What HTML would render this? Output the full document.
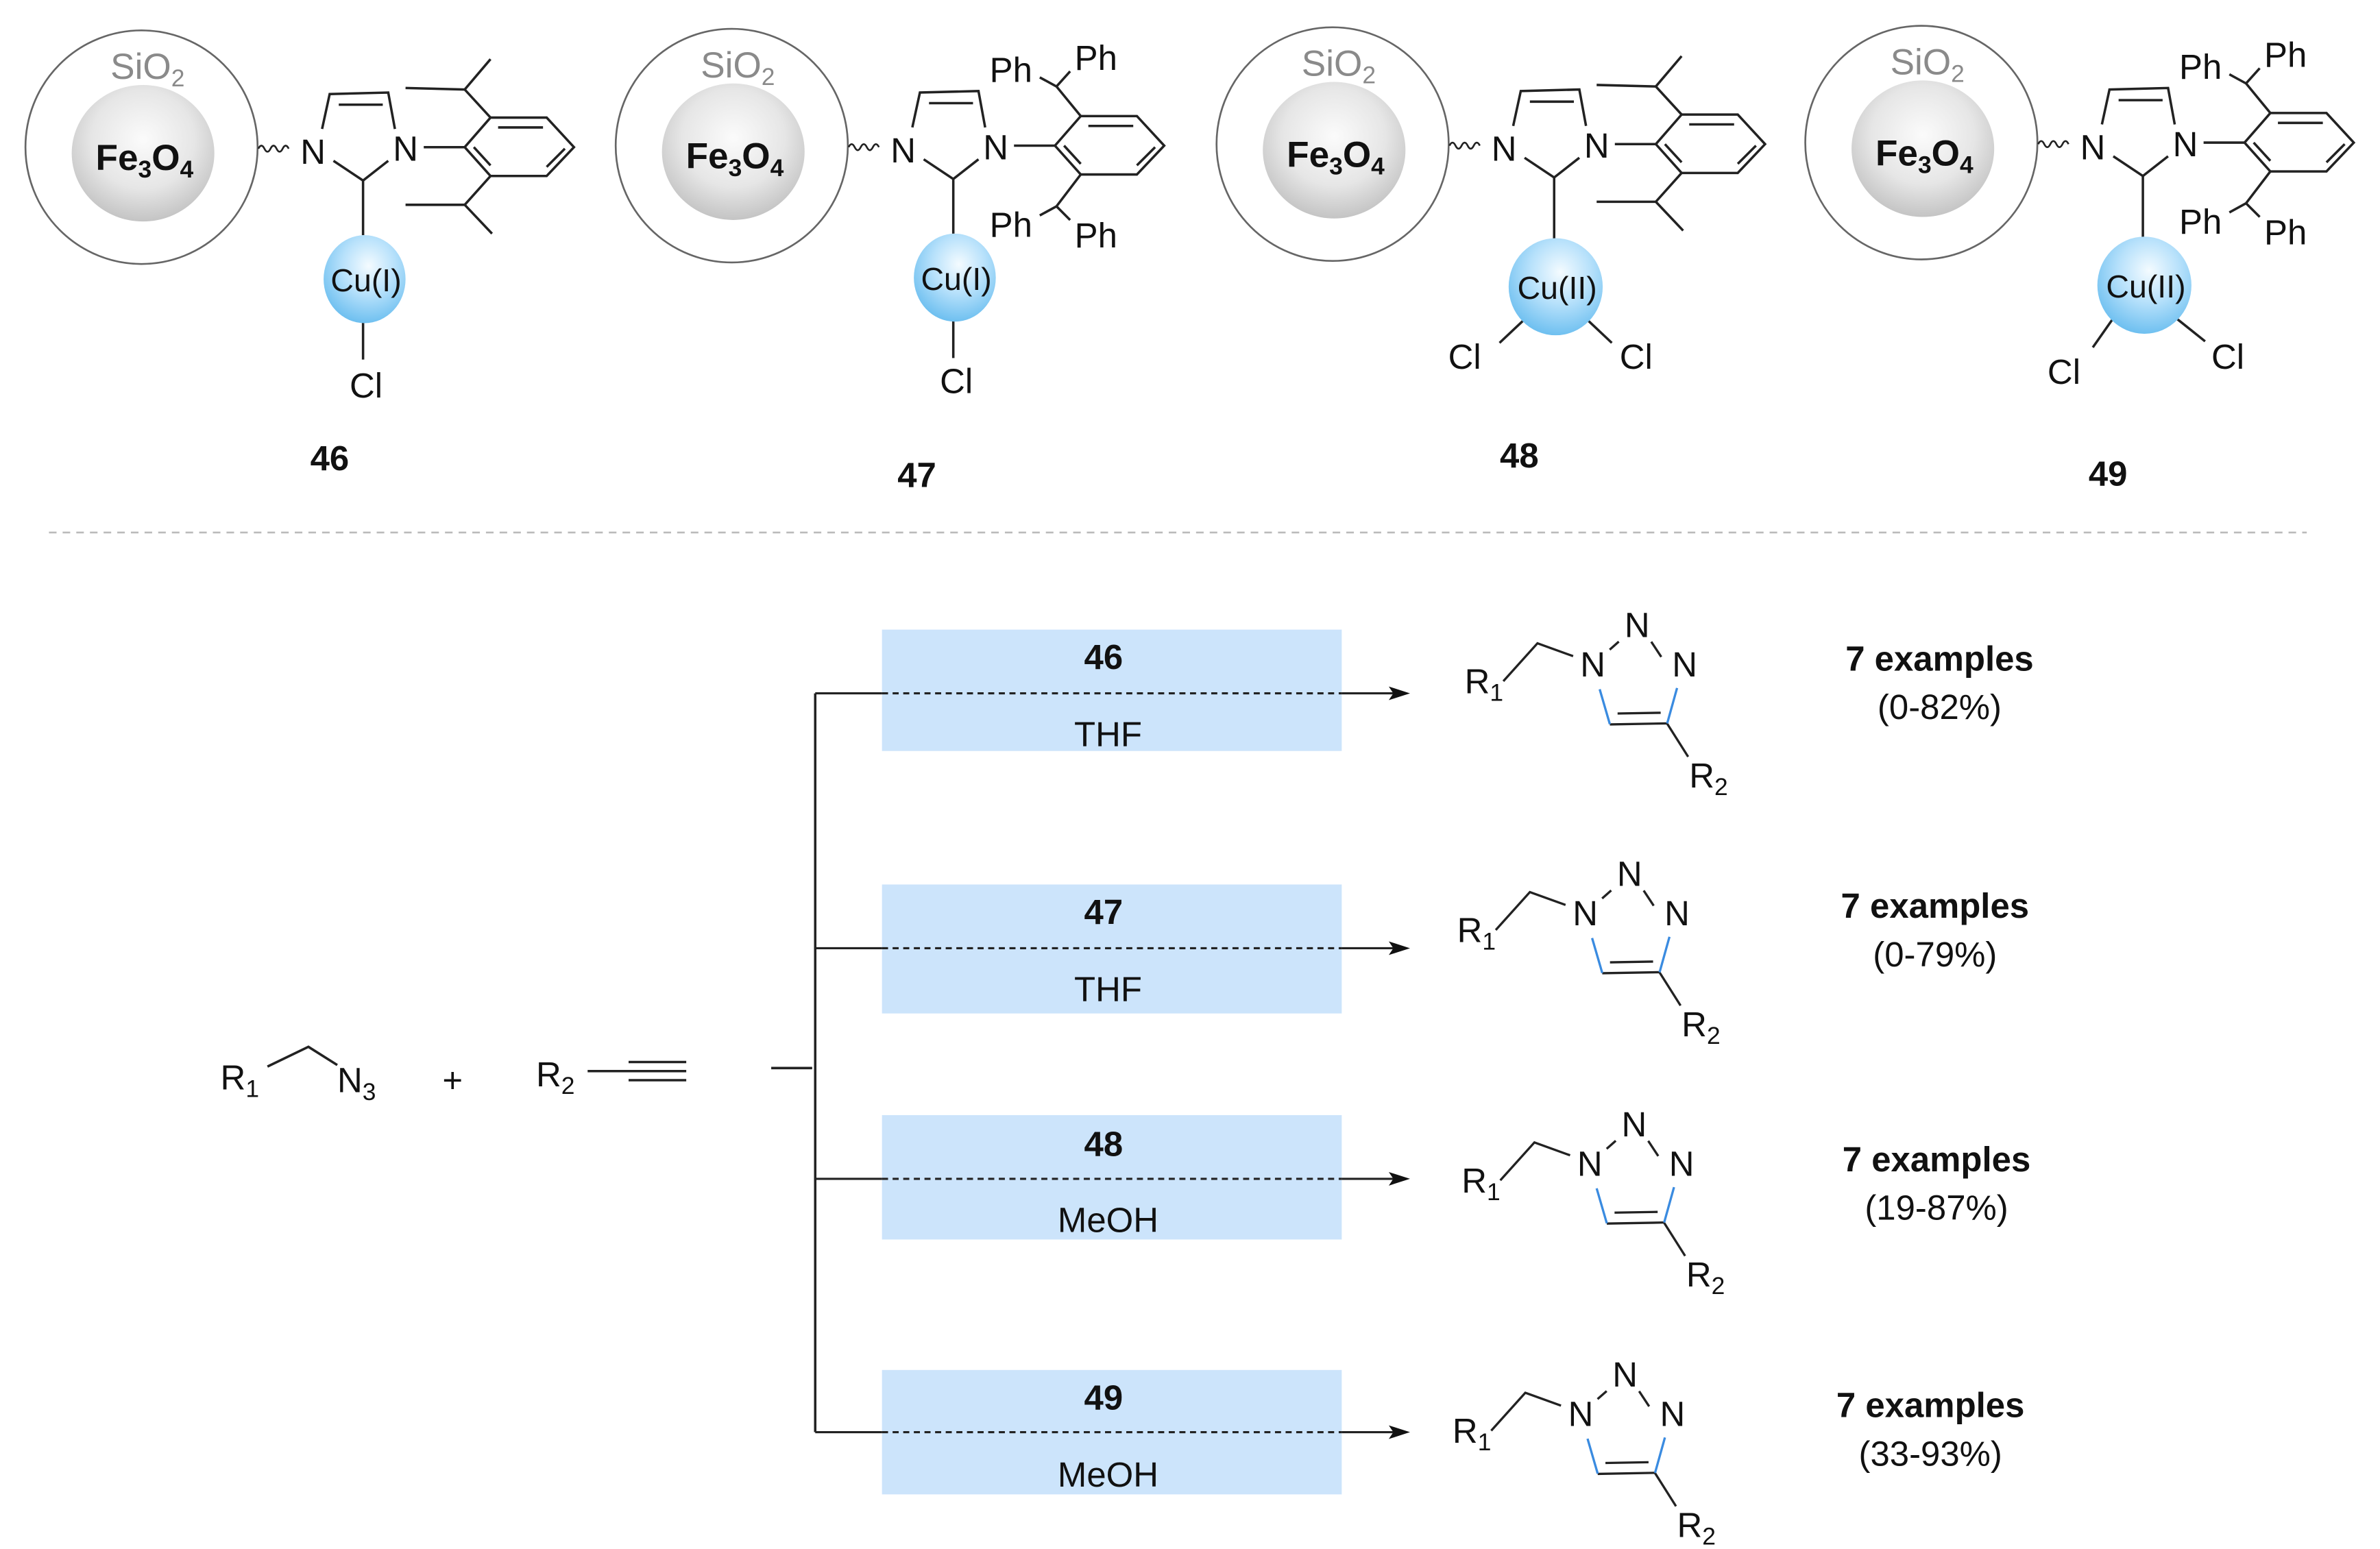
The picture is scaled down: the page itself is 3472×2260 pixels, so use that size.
<!DOCTYPE html>
<html><head><meta charset="utf-8"><style>
html,body{margin:0;padding:0;background:#fff;}
svg{display:block;}
text{font-family:"Liberation Sans",Arial,sans-serif;}
</style></head><body>
<svg width="3472" height="2260" viewBox="0 0 1568 1021" xmlns="http://www.w3.org/2000/svg">
<defs>
<radialGradient id="fe" cx="50%" cy="40%" r="60%"><stop offset="0" stop-color="#fbfbfb"/><stop offset="0.6" stop-color="#e6e6e6"/><stop offset="1" stop-color="#c4c4c4"/></radialGradient>
<radialGradient id="cu" cx="55%" cy="35%" r="65%"><stop offset="0" stop-color="#f4fbff"/><stop offset="0.5" stop-color="#b7e1fb"/><stop offset="1" stop-color="#6fc0f0"/></radialGradient>
</defs>

<!-- ================= 46 ================= -->
<g>
<ellipse cx="93" cy="97" rx="76.5" ry="77" fill="none" stroke="#666" stroke-width="1.2"/>
<ellipse cx="94" cy="101" rx="47" ry="45" fill="url(#fe)"/>
<text x="97" y="52" font-size="24" fill="#8a8a8a" text-anchor="middle">SiO<tspan font-size="16" dy="5">2</tspan></text>
<text x="95" y="112" font-size="24" font-weight="bold" fill="#111" text-anchor="middle">Fe<tspan font-size="16" dy="5">3</tspan><tspan dy="-5">O</tspan><tspan font-size="16" dy="5">4</tspan></text>
<path d="M170 98 q2 -4 4 0 t4 0 t4 0 t4 0 t4 0" stroke="#222" stroke-width="1.2" fill="none"/>
<g stroke="#222" stroke-width="1.6" fill="none">
<path d="M212 85 L217 62 L255.6 61 L260 85"/><line x1="223" y1="69" x2="252" y2="69"/>
<path d="M219.5 106 L239 119 L255.6 106"/>
<line x1="279" y1="97" x2="306" y2="97"/>
<path d="M306 97 L323 77.5 L360 77.5 L378 97 L360 116 L323 116 Z"/>
<line x1="328" y1="84" x2="357.6" y2="84"/><line x1="372" y1="98" x2="360" y2="110"/><line x1="312" y1="97" x2="323" y2="109"/>
<path d="M323 77.5 L306 59 L267 58 M306 59 L323 39"/>
<path d="M323 116 L306 135 L267 135 M306 135 L324 154"/>
<line x1="239" y1="119" x2="239" y2="155"/>
<line x1="239" y1="212" x2="239" y2="237"/>
</g>
<text x="206" y="108" font-size="23" text-anchor="middle" fill="#111">N</text>
<text x="267" y="106" font-size="23" text-anchor="middle" fill="#111">N</text>
<ellipse cx="240" cy="184" rx="27" ry="29" fill="url(#cu)"/>
<text x="241" y="192" font-size="21" text-anchor="middle" fill="#111">Cu(I)</text>
<text x="241" y="262" font-size="23" text-anchor="middle" fill="#111">Cl</text>
</g>
<text x="217" y="310" font-size="23" font-weight="bold" text-anchor="middle" fill="#111">46</text>

<!-- ================= 47 ================= -->
<g transform="translate(389,-1)">
<ellipse cx="93" cy="97" rx="76.5" ry="77" fill="none" stroke="#666" stroke-width="1.2"/>
<ellipse cx="94" cy="101" rx="47" ry="45" fill="url(#fe)"/>
<text x="97" y="52" font-size="24" fill="#8a8a8a" text-anchor="middle">SiO<tspan font-size="16" dy="5">2</tspan></text>
<text x="95" y="112" font-size="24" font-weight="bold" fill="#111" text-anchor="middle">Fe<tspan font-size="16" dy="5">3</tspan><tspan dy="-5">O</tspan><tspan font-size="16" dy="5">4</tspan></text>
<path d="M170 98 q2 -4 4 0 t4 0 t4 0 t4 0 t4 0" stroke="#222" stroke-width="1.2" fill="none"/>
<g stroke="#222" stroke-width="1.6" fill="none">
<path d="M212 85 L217 62 L255.6 61 L260 85"/><line x1="223" y1="69" x2="252" y2="69"/>
<path d="M219.5 106 L239 119 L255.6 106"/>
<line x1="279" y1="97" x2="306" y2="97"/>
<path d="M306 97 L323 77.5 L360 77.5 L378 97 L360 116 L323 116 Z"/>
<line x1="328" y1="84" x2="357.6" y2="84"/><line x1="372" y1="98" x2="360" y2="110"/><line x1="312" y1="97" x2="323" y2="109"/>
<path d="M323 77.5 L307 58 M307 58 L296 52 M307 58 L316 48"/>
<path d="M323 116 L307 137 M307 137 L296 143 M307 137 L316 146"/>
<line x1="239" y1="119" x2="239" y2="155"/>
<line x1="239" y1="212" x2="239" y2="237"/>
</g>
<text x="277" y="55" font-size="23" text-anchor="middle" fill="#111">Ph</text>
<text x="333" y="47" font-size="23" text-anchor="middle" fill="#111">Ph</text>
<text x="277" y="157" font-size="23" text-anchor="middle" fill="#111">Ph</text>
<text x="333" y="164" font-size="23" text-anchor="middle" fill="#111">Ph</text>
<text x="206" y="108" font-size="23" text-anchor="middle" fill="#111">N</text>
<text x="267" y="106" font-size="23" text-anchor="middle" fill="#111">N</text>
<ellipse cx="240" cy="184" rx="27" ry="29" fill="url(#cu)"/>
<text x="241" y="192" font-size="21" text-anchor="middle" fill="#111">Cu(I)</text>
<text x="241" y="260" font-size="23" text-anchor="middle" fill="#111">Cl</text>
</g>
<text x="604" y="321" font-size="23" font-weight="bold" text-anchor="middle" fill="#111">47</text>

<!-- ================= 48 ================= -->
<g transform="translate(785,-2)">
<ellipse cx="93" cy="97" rx="76.5" ry="77" fill="none" stroke="#666" stroke-width="1.2"/>
<ellipse cx="94" cy="101" rx="47" ry="45" fill="url(#fe)"/>
<text x="97" y="52" font-size="24" fill="#8a8a8a" text-anchor="middle">SiO<tspan font-size="16" dy="5">2</tspan></text>
<text x="95" y="112" font-size="24" font-weight="bold" fill="#111" text-anchor="middle">Fe<tspan font-size="16" dy="5">3</tspan><tspan dy="-5">O</tspan><tspan font-size="16" dy="5">4</tspan></text>
<path d="M170 98 q2 -4 4 0 t4 0 t4 0 t4 0 t4 0" stroke="#222" stroke-width="1.2" fill="none"/>
<g stroke="#222" stroke-width="1.6" fill="none">
<path d="M212 85 L217 62 L255.6 61 L260 85"/><line x1="223" y1="69" x2="252" y2="69"/>
<path d="M219.5 106 L239 119 L255.6 106"/>
<line x1="279" y1="97" x2="306" y2="97"/>
<path d="M306 97 L323 77.5 L360 77.5 L378 97 L360 116 L323 116 Z"/>
<line x1="328" y1="84" x2="357.6" y2="84"/><line x1="372" y1="98" x2="360" y2="110"/><line x1="312" y1="97" x2="323" y2="109"/>
<path d="M323 77.5 L306 59 L267 58 M306 59 L323 39"/>
<path d="M323 116 L306 135 L267 135 M306 135 L324 154"/>
<line x1="239" y1="119" x2="239" y2="160"/>
<line x1="220" y1="212" x2="203" y2="228"/>
<line x1="260" y1="212" x2="277" y2="228"/>
</g>
<text x="206" y="108" font-size="23" text-anchor="middle" fill="#111">N</text>
<text x="267" y="106" font-size="23" text-anchor="middle" fill="#111">N</text>
<ellipse cx="240" cy="191" rx="31" ry="32" fill="url(#cu)"/>
<text x="241" y="199" font-size="21" text-anchor="middle" fill="#111">Cu(II)</text>
<text x="180" y="245" font-size="23" text-anchor="middle" fill="#111">Cl</text>
<text x="293" y="245" font-size="23" text-anchor="middle" fill="#111">Cl</text>
</g>
<text x="1001" y="308" font-size="23" font-weight="bold" text-anchor="middle" fill="#111">48</text>

<!-- ================= 49 ================= -->
<g transform="translate(1173,-3)">
<ellipse cx="93" cy="97" rx="76.5" ry="77" fill="none" stroke="#666" stroke-width="1.2"/>
<ellipse cx="94" cy="101" rx="47" ry="45" fill="url(#fe)"/>
<text x="97" y="52" font-size="24" fill="#8a8a8a" text-anchor="middle">SiO<tspan font-size="16" dy="5">2</tspan></text>
<text x="95" y="112" font-size="24" font-weight="bold" fill="#111" text-anchor="middle">Fe<tspan font-size="16" dy="5">3</tspan><tspan dy="-5">O</tspan><tspan font-size="16" dy="5">4</tspan></text>
<path d="M170 98 q2 -4 4 0 t4 0 t4 0 t4 0 t4 0" stroke="#222" stroke-width="1.2" fill="none"/>
<g stroke="#222" stroke-width="1.6" fill="none">
<path d="M212 85 L217 62 L255.6 61 L260 85"/><line x1="223" y1="69" x2="252" y2="69"/>
<path d="M219.5 106 L239 119 L255.6 106"/>
<line x1="279" y1="97" x2="306" y2="97"/>
<path d="M306 97 L323 77.5 L360 77.5 L378 97 L360 116 L323 116 Z"/>
<line x1="328" y1="84" x2="357.6" y2="84"/><line x1="372" y1="98" x2="360" y2="110"/><line x1="312" y1="97" x2="323" y2="109"/>
<path d="M323 77.5 L307 58 M307 58 L296 52 M307 58 L316 48"/>
<path d="M323 116 L307 137 M307 137 L296 143 M307 137 L316 146"/>
<line x1="239" y1="119" x2="239" y2="160"/>
<line x1="220" y1="212" x2="206" y2="232"/>
<line x1="260" y1="212" x2="280" y2="228"/>
</g>
<text x="277" y="55" font-size="23" text-anchor="middle" fill="#111">Ph</text>
<text x="333" y="47" font-size="23" text-anchor="middle" fill="#111">Ph</text>
<text x="277" y="157" font-size="23" text-anchor="middle" fill="#111">Ph</text>
<text x="333" y="164" font-size="23" text-anchor="middle" fill="#111">Ph</text>
<text x="206" y="108" font-size="23" text-anchor="middle" fill="#111">N</text>
<text x="267" y="106" font-size="23" text-anchor="middle" fill="#111">N</text>
<ellipse cx="240" cy="191" rx="31" ry="32" fill="url(#cu)"/>
<text x="241" y="199" font-size="21" text-anchor="middle" fill="#111">Cu(II)</text>
<text x="187" y="256" font-size="23" text-anchor="middle" fill="#111">Cl</text>
<text x="295" y="246" font-size="23" text-anchor="middle" fill="#111">Cl</text>
</g>
<text x="1389" y="320" font-size="23" font-weight="bold" text-anchor="middle" fill="#111">49</text>

<!-- separator -->
<line x1="32" y1="351" x2="1520" y2="351" stroke="#bbb" stroke-width="1.2" stroke-dasharray="5,4"/>

<!-- reactants -->
<g fill="#111">
<text x="145" y="718" font-size="23">R<tspan font-size="16" dy="5">1</tspan></text>
<text x="222" y="720" font-size="23">N<tspan font-size="16" dy="5">3</tspan></text>
<text x="298" y="720" font-size="23" text-anchor="middle">+</text>
<text x="353" y="716" font-size="23">R<tspan font-size="16" dy="5">2</tspan></text>
</g>
<g stroke="#222" stroke-width="1.6" fill="none">
<path d="M176 703 L203 690 L222 702"/>
<line x1="387" y1="706" x2="414" y2="706"/>
<line x1="414" y1="700" x2="452" y2="700"/>
<line x1="414" y1="706" x2="452" y2="706"/>
<line x1="414" y1="712" x2="452" y2="712"/>
<line x1="508" y1="704" x2="535" y2="704"/>
<line x1="537" y1="457" x2="537" y2="944"/>
</g>

<!-- boxes -->
<g fill="#cce4fb">
<rect x="581" y="415" width="303" height="80"/>
<rect x="581" y="583" width="303" height="85"/>
<rect x="581" y="735" width="303" height="82"/>
<rect x="581" y="903" width="303" height="82"/>
</g>
<g stroke="#222" stroke-width="1.4" fill="none">
<path d="M537 457 H581"/><path d="M581 457 H884" stroke-dasharray="4,3"/><path d="M884 457 H918"/>
<path d="M537 625 H581"/><path d="M581 625 H884" stroke-dasharray="4,3"/><path d="M884 625 H918"/>
<path d="M537 777 H581"/><path d="M581 777 H884" stroke-dasharray="4,3"/><path d="M884 777 H918"/>
<path d="M537 944 H581"/><path d="M581 944 H884" stroke-dasharray="4,3"/><path d="M884 944 H918"/>
</g>
<g fill="#111">
<path d="M929 457 L915 452.5 L918 457 L915 461.5 Z"/>
<path d="M929 625 L915 620.5 L918 625 L915 629.5 Z"/>
<path d="M929 777 L915 772.5 L918 777 L915 781.5 Z"/>
<path d="M929 944 L915 939.5 L918 944 L915 948.5 Z"/>
</g>
<g fill="#111" font-size="23" text-anchor="middle">
<text x="727" y="441" font-weight="bold">46</text><text x="730" y="492">THF</text>
<text x="727" y="609" font-weight="bold">47</text><text x="730" y="660">THF</text>
<text x="727" y="762" font-weight="bold">48</text><text x="730" y="812">MeOH</text>
<text x="727" y="929" font-weight="bold">49</text><text x="730" y="980">MeOH</text>
</g>

<!-- triazole products -->
<g>
<g stroke="#222" stroke-width="1.5" fill="none">
<path d="M990.5 449 L1013 424 L1036.5 432.5"/>
<line x1="1060.6" y1="428.2" x2="1066.6" y2="422.9"/>
<line x1="1088" y1="423" x2="1094.6" y2="433"/>
<line x1="1060.7" y1="477.5" x2="1098.5" y2="476.8"/>
<line x1="1065.8" y1="470.3" x2="1094.2" y2="469.8"/>
<line x1="1098.5" y1="477" x2="1112.3" y2="498.8"/>
</g>
<g stroke="#3a8be0" stroke-width="1.5">
<line x1="1105" y1="453.5" x2="1098.5" y2="476.8"/>
<line x1="1054" y1="454.3" x2="1060.7" y2="477.3"/>
</g>
<g fill="#111" font-size="23">
<text x="965" y="457">R<tspan font-size="16" dy="5">1</tspan></text>
<text x="1049.5" y="446" text-anchor="middle">N</text>
<text x="1078.7" y="420" text-anchor="middle">N</text>
<text x="1110" y="446" text-anchor="middle">N</text>
<text x="1113" y="519">R<tspan font-size="16" dy="5">2</tspan></text>
</g>
</g>
<g transform="translate(-5,164)">
<g stroke="#222" stroke-width="1.5" fill="none">
<path d="M990.5 449 L1013 424 L1036.5 432.5"/>
<line x1="1060.6" y1="428.2" x2="1066.6" y2="422.9"/>
<line x1="1088" y1="423" x2="1094.6" y2="433"/>
<line x1="1060.7" y1="477.5" x2="1098.5" y2="476.8"/>
<line x1="1065.8" y1="470.3" x2="1094.2" y2="469.8"/>
<line x1="1098.5" y1="477" x2="1112.3" y2="498.8"/>
</g>
<g stroke="#3a8be0" stroke-width="1.5">
<line x1="1105" y1="453.5" x2="1098.5" y2="476.8"/>
<line x1="1054" y1="454.3" x2="1060.7" y2="477.3"/>
</g>
<g fill="#111" font-size="23">
<text x="965" y="457">R<tspan font-size="16" dy="5">1</tspan></text>
<text x="1049.5" y="446" text-anchor="middle">N</text>
<text x="1078.7" y="420" text-anchor="middle">N</text>
<text x="1110" y="446" text-anchor="middle">N</text>
<text x="1113" y="519">R<tspan font-size="16" dy="5">2</tspan></text>
</g>
</g>
<g transform="translate(-2,329)">
<g stroke="#222" stroke-width="1.5" fill="none">
<path d="M990.5 449 L1013 424 L1036.5 432.5"/>
<line x1="1060.6" y1="428.2" x2="1066.6" y2="422.9"/>
<line x1="1088" y1="423" x2="1094.6" y2="433"/>
<line x1="1060.7" y1="477.5" x2="1098.5" y2="476.8"/>
<line x1="1065.8" y1="470.3" x2="1094.2" y2="469.8"/>
<line x1="1098.5" y1="477" x2="1112.3" y2="498.8"/>
</g>
<g stroke="#3a8be0" stroke-width="1.5">
<line x1="1105" y1="453.5" x2="1098.5" y2="476.8"/>
<line x1="1054" y1="454.3" x2="1060.7" y2="477.3"/>
</g>
<g fill="#111" font-size="23">
<text x="965" y="457">R<tspan font-size="16" dy="5">1</tspan></text>
<text x="1049.5" y="446" text-anchor="middle">N</text>
<text x="1078.7" y="420" text-anchor="middle">N</text>
<text x="1110" y="446" text-anchor="middle">N</text>
<text x="1113" y="519">R<tspan font-size="16" dy="5">2</tspan></text>
</g>
</g>
<g transform="translate(-8,494)">
<g stroke="#222" stroke-width="1.5" fill="none">
<path d="M990.5 449 L1013 424 L1036.5 432.5"/>
<line x1="1060.6" y1="428.2" x2="1066.6" y2="422.9"/>
<line x1="1088" y1="423" x2="1094.6" y2="433"/>
<line x1="1060.7" y1="477.5" x2="1098.5" y2="476.8"/>
<line x1="1065.8" y1="470.3" x2="1094.2" y2="469.8"/>
<line x1="1098.5" y1="477" x2="1112.3" y2="498.8"/>
</g>
<g stroke="#3a8be0" stroke-width="1.5">
<line x1="1105" y1="453.5" x2="1098.5" y2="476.8"/>
<line x1="1054" y1="454.3" x2="1060.7" y2="477.3"/>
</g>
<g fill="#111" font-size="23">
<text x="965" y="457">R<tspan font-size="16" dy="5">1</tspan></text>
<text x="1049.5" y="446" text-anchor="middle">N</text>
<text x="1078.7" y="420" text-anchor="middle">N</text>
<text x="1110" y="446" text-anchor="middle">N</text>
<text x="1113" y="519">R<tspan font-size="16" dy="5">2</tspan></text>
</g>
</g>

<!-- examples -->
<g fill="#111" font-size="23" text-anchor="middle">
<text x="1278" y="442" font-weight="bold">7 examples</text><text x="1278" y="474">(0-82%)</text>
<text x="1275" y="605" font-weight="bold">7 examples</text><text x="1275" y="637">(0-79%)</text>
<text x="1276" y="772" font-weight="bold">7 examples</text><text x="1276" y="804">(19-87%)</text>
<text x="1272" y="934" font-weight="bold">7 examples</text><text x="1272" y="966">(33-93%)</text>
</g>
</svg>
</body></html>
